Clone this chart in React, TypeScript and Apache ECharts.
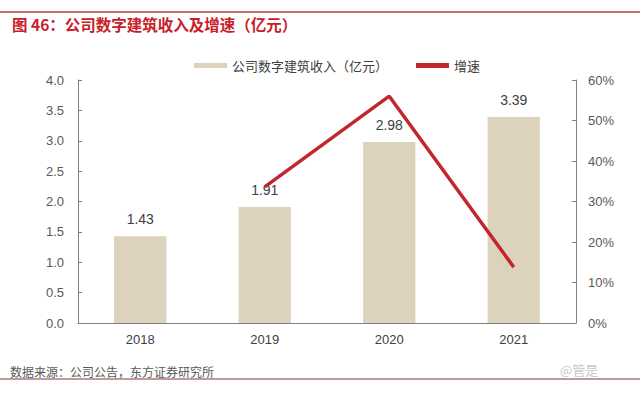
import React, { useEffect, useRef } from "react";
import * as echarts from "echarts";

const categories = ["2018", "2019", "2020", "2021"];
const revenue = [1.43, 1.91, 2.98, 3.39];
const growth = [null, 33.6, 56.0, 13.8];
const leftTicks = { min: 0, max: 4, interval: 0.5 };
const rightTicks = { min: 0, max: 60, interval: 10 };

const FONT = '"Noto Sans CJK SC", "Noto Sans", sans-serif';

export default function App() {
  const ref = useRef<HTMLDivElement>(null);
  useEffect(() => {
    if (!ref.current) return;
    const chart = echarts.init(ref.current, null, { renderer: "svg" });
    chart.setOption({
      animation: false,
      backgroundColor: "#ffffff",
      textStyle: { fontFamily: FONT },
      grid: { left: 78, right: 64, top: 80, bottom: 73 },
      legend: {
        top: 54,
        left: 189,
        itemGap: 28,
        textStyle: { fontSize: 13, color: "#404040", fontFamily: FONT },
        data: [
          { name: "公司数字建筑收入（亿元）", icon: "rect", itemStyle: { color: "#ddd3bc" } },
          { name: "增速", icon: "rect" },
        ],
        itemWidth: 33,
        itemHeight: 5,
      },
      xAxis: {
        type: "category",
        data: categories,
        axisLine: { lineStyle: { color: "#808080", width: 1 } },
        axisTick: { show: false },
        axisLabel: { color: "#404040", fontSize: 13, margin: 10, fontFamily: "Arial, Liberation Sans, sans-serif" },
      },
      yAxis: [
        {
          type: "value",
          min: leftTicks.min,
          max: leftTicks.max,
          interval: leftTicks.interval,
          splitLine: { show: false },
          axisLine: { show: true, lineStyle: { color: "#808080" } },
          axisTick: { show: true, inside: true, length: 4, lineStyle: { color: "#808080" } },
          axisLabel: {
            color: "#595959",
            fontSize: 13,
            margin: 14,
            fontFamily: "Arial, Liberation Sans, sans-serif",
            formatter: (v: number) => v.toFixed(1),
          },
        },
        {
          type: "value",
          min: rightTicks.min,
          max: rightTicks.max,
          interval: rightTicks.interval,
          splitLine: { show: false },
          axisLine: { show: true, lineStyle: { color: "#808080" } },
          axisTick: { show: true, inside: true, length: 4, lineStyle: { color: "#808080" } },
          axisLabel: {
            color: "#595959",
            fontSize: 13,
            margin: 12,
            fontFamily: "Arial, Liberation Sans, sans-serif",
            formatter: (v: number) => v + "%",
          },
        },
      ],
      series: [
        {
          name: "公司数字建筑收入（亿元）",
          type: "bar",
          data: revenue,
          barWidth: "42%",
          itemStyle: { color: "#ddd3bc" },
          label: {
            show: true,
            position: "top",
            distance: 10,
            color: "#404040",
            fontSize: 14,
            fontFamily: "Arial, Liberation Sans, sans-serif",
            formatter: (p: any) => p.value.toFixed(2),
          },
        },
        {
          name: "增速",
          type: "line",
          yAxisIndex: 1,
          data: growth,
          symbol: "none",
          lineStyle: { color: "#c1272d", width: 3.5 },
          itemStyle: { color: "#c1272d" },
        },
      ],
      graphic: [
        {
          type: "line",
          shape: { x1: 0, y1: 12, x2: 640, y2: 12 },
          style: { stroke: "#b5403f", lineWidth: 1.5 },
        },
        {
          type: "text",
          left: 12,
          top: 16,
          style: {
            text: "图 46：公司数字建筑收入及增速（亿元）",
            fill: "#c8202a",
            font: `bold 15.5px ${FONT}`,
          },
        },
        {
          type: "text",
          left: 10,
          top: 365,
          style: {
            text: "数据来源：公司公告，东方证券研究所",
            fill: "#595959",
            font: `12px ${FONT}`,
          },
        },
        {
          type: "line",
          shape: { x1: 0, y1: 379, x2: 640, y2: 379 },
          style: { stroke: "#a67a7a", lineWidth: 1.5 },
        },
        {
          type: "text",
          left: 560,
          top: 363,
          style: {
            text: "@管是",
            fill: "#c8c8c8",
            font: `13px ${FONT}`,
          },
        },
      ],
    });
    return () => chart.dispose();
  }, []);
  return (
    <div
      ref={ref}
      style={{ width: 640, height: 396, position: "absolute", left: 0, top: 0 }}
    />
  );
}
